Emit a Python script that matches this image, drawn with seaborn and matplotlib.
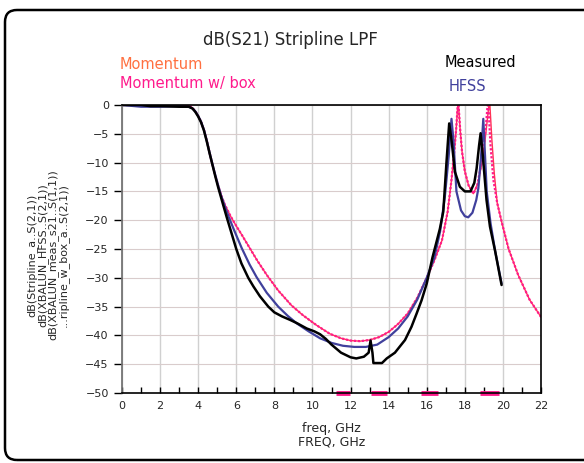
import matplotlib
matplotlib.use("Agg")
import matplotlib.pyplot as plt
from matplotlib.patches import FancyBboxPatch
from matplotlib.ticker import MultipleLocator
import seaborn as sns

# --- data (freq in GHz, dB(S21)) ---
mom_freq = [0, 1, 2, 3, 3.5, 3.7, 3.85, 4.0, 4.15, 4.3, 4.45, 4.6, 4.75, 4.9, 5.05, 5.2,
            5.4, 5.7, 6.0, 6.3, 6.7, 7.1, 7.6, 8.2, 8.9, 9.5, 10.2, 10.9, 11.5, 12.0,
            12.5, 13.0, 13.5, 14.0, 14.5, 15.0, 15.5, 16.0, 16.4, 16.8, 17.1, 17.3,
            17.45, 17.55, 17.65, 17.75, 17.85, 18.0, 18.2, 18.45, 18.7, 18.9, 19.05,
            19.15, 19.3, 19.42, 19.55, 19.7, 19.95, 20.3, 20.8, 21.4, 22.0]
mom_db = [0, 0, 0, 0, -0.1, -0.5, -1.1, -1.9, -2.9, -4.3, -6.2, -8.3, -10.3, -12.2,
          -14.0, -15.6, -17.3, -19.3, -21.0, -22.6, -24.8, -27.0, -29.5, -32.2, -34.8,
          -36.5, -38.2, -39.7, -40.5, -40.9, -41.0, -40.8, -40.3, -39.4, -38.0, -36.2,
          -33.5, -30.0, -27.0, -23.5, -18.5, -13.0, -8.0, -4.0, 1.0, -4.0, -8.0, -11.5,
          -14.0, -15.4, -13.5, -10.0, -6.5, -3.5, 1.0, -6.0, -12.0, -17.0, -20.5, -25.0,
          -29.5, -33.8, -36.8]

box_freq = [0, 1, 2, 3, 3.5, 3.7, 3.85, 4.0, 4.15, 4.3, 4.45, 4.6, 4.75, 4.9, 5.05, 5.2,
            5.4, 5.7, 6.0, 6.3, 6.7, 7.1, 7.6, 8.2, 8.9, 9.5, 10.2, 10.9, 11.5, 12.0,
            12.5, 13.0, 13.5, 14.0, 14.5, 15.0, 15.5, 16.0, 16.4, 16.8, 17.1, 17.3,
            17.45, 17.55, 17.65, 17.75, 17.85, 18.0, 18.2, 18.45, 18.65, 18.85, 19.0,
            19.1, 19.22, 19.35, 19.5, 19.7, 19.95, 20.3, 20.8, 21.4, 22.0]
box_db = [0, 0, 0, 0, -0.1, -0.5, -1.1, -1.9, -2.9, -4.3, -6.2, -8.3, -10.3, -12.2,
          -14.0, -15.6, -17.3, -19.3, -21.0, -22.6, -24.8, -27.0, -29.5, -32.2, -34.8,
          -36.5, -38.2, -39.7, -40.5, -40.9, -41.0, -40.8, -40.3, -39.4, -38.0, -36.2,
          -33.5, -30.0, -27.0, -23.5, -18.5, -13.0, -8.0, -4.0, 1.0, -4.0, -8.0, -11.5,
          -14.0, -15.4, -14.0, -10.5, -7.0, -4.0, 1.0, -7.0, -13.0, -17.0, -20.5, -25.0,
          -29.5, -33.8, -36.8]

hfss_freq = [0, 1, 2, 3, 3.5, 3.7, 3.85, 4.0, 4.15, 4.3, 4.45, 4.6, 4.75, 4.9, 5.05,
             5.2, 5.4, 5.6, 5.87, 6.28, 6.7, 7.07, 7.6, 8.2, 8.7, 9.17, 9.8, 10.4, 11.0,
             11.6, 12.2, 12.8, 13.4, 14.0, 14.5, 15.0, 15.5, 16.0, 16.4, 16.7, 16.95,
             17.15, 17.3, 17.4, 17.56, 17.8, 18.0, 18.18, 18.4, 18.6, 18.71, 18.85,
             18.97, 19.05, 19.15, 19.35, 19.6, 19.93]
hfss_db = [0, -0.3, -0.3, -0.2, -0.3, -0.6, -1.1, -1.9, -2.9, -4.3, -6.2, -8.3, -10.3,
           -12.2, -14.0, -15.7, -17.6, -19.4, -21.6, -24.8, -27.7, -29.9, -32.6, -35.0,
           -36.6, -37.9, -39.3, -40.5, -41.3, -41.8, -42.0, -42.0, -41.6, -40.3, -38.8,
           -36.7, -33.8, -30.0, -26.5, -22.0, -16.0, -9.0, -2.4, -6.0, -15.0, -18.3,
           -19.3, -19.5, -18.7, -16.5, -14.5, -9.0, -2.4, -8.0, -15.0, -20.5, -25.5, -31.0]

meas_freq = [0, 1, 1.5, 2, 3, 3.5, 3.7, 3.85, 4.0, 4.15, 4.3, 4.45, 4.6, 4.75, 4.9, 5.05,
             5.3, 5.5, 5.7, 6.0, 6.27, 6.63, 6.9, 7.24, 7.68, 8.0, 8.4, 8.82, 9.2, 9.7,
             10.1, 10.4, 10.7, 11.0, 11.5, 12.0, 12.3, 12.7, 12.95, 13.05, 13.15, 13.2,
             13.65, 13.9, 14.33, 14.86, 15.2, 15.47, 15.73, 16.0, 16.3, 16.69, 16.87,
             17.04, 17.18, 17.3, 17.48, 17.74, 18.0, 18.3, 18.5, 18.62, 18.75, 18.83,
             18.95, 19.14, 19.32, 19.6, 19.93]
meas_db = [0, 0, -0.2, -0.2, -0.3, -0.3, -0.6, -1.2, -2.0, -3.0, -4.4, -6.3, -8.4,
           -10.4, -12.4, -14.3, -17.2, -19.5, -21.7, -25.0, -27.5, -30.0, -31.5, -33.2,
           -35.0, -36.0, -36.7, -37.3, -37.9, -38.8, -39.3, -39.8, -40.6, -41.6, -43.0,
           -43.8, -44.0, -43.7, -43.0, -40.9, -43.0, -44.8, -44.8, -44.0, -43.0, -40.8,
           -38.5, -36.2, -33.9, -31.0, -26.5, -21.5, -18.5, -9.8, -3.2, -6.0, -11.6,
           -14.2, -15.0, -15.0, -13.5, -11.0, -7.0, -4.9, -9.0, -16.5, -21.1, -25.5,
           -31.25]

# marker segments along the bottom of the plot
marker_spans = [(11.25, 11.95), (13.1, 13.9), (15.7, 16.6), (18.8, 19.8)]

sns.set_theme(style="white")
plt.rcParams["font.family"] = ["DejaVu Sans"]

fig = plt.figure(figsize=(5.84, 4.63), dpi=100)
ax = fig.add_axes([122 / 584, 1 - 393 / 463, 419 / 584, 288 / 463])

red = "#ff3355"
pink = "#ff1a8c"
blue = "#40409c"

sns.lineplot(x=mom_freq, y=mom_db, ax=ax, color=red, lw=1.0, sort=False, estimator=None)
sns.lineplot(x=box_freq, y=box_db, ax=ax, color=pink, lw=1.6, ls=(0, (1, 0.8)),
             sort=False, estimator=None)
sns.lineplot(x=hfss_freq, y=hfss_db, ax=ax, color=blue, lw=1.6, sort=False, estimator=None)
sns.lineplot(x=meas_freq, y=meas_db, ax=ax, color="black", lw=1.8, sort=False,
             estimator=None)

for lo, hi in marker_spans:
    sns.lineplot(x=[lo, hi], y=[-50, -50], ax=ax, color=pink, lw=3.5, clip_on=False,
                 solid_capstyle="butt")

ax.set_xlim(0, 22)
ax.set_ylim(-50, 0)
ax.xaxis.set_major_locator(MultipleLocator(2))
ax.xaxis.set_minor_locator(MultipleLocator(1))
ax.yaxis.set_major_locator(MultipleLocator(5))
ax.grid(axis="x", color="#d0d0d0", lw=1.0)
ax.grid(axis="y", color="#d9cccc", lw=0.8)
ax.set_axisbelow(True)

ax.tick_params(axis="x", which="both", direction="in", length=4, width=1, color="black",
               labelsize=8, pad=6, bottom=True)
ax.tick_params(axis="y", direction="out", length=6, width=1, color="black",
               labelsize=8, left=True)
for s in ["top", "right", "bottom"]:
    ax.spines[s].set_color("black")
    ax.spines[s].set_linewidth(1.2)
ax.spines["left"].set_color("#707070")

ax.set_xlabel("freq, GHz\nFREQ, GHz", fontsize=9, labelpad=8, linespacing=1.0)
ax.set_ylabel("")

fig.text(0.082, 0.449,
         "dB(Stripline_a..S(2,1))\ndB(XBALUN_HFSS..S(2,1))\n"
         "dB(XBALUN_meas_s21..S(1,1))\n...ripline_w_box_a..S(2,1))",
         rotation=90, ha="center", va="center", fontsize=8, linespacing=0.95)

fig.text(0.497, 0.914, "dB(S21) Stripline LPF", ha="center", va="center", fontsize=12)
fig.text(0.205, 0.860, "Momentum", color="#ff7040", ha="left", va="center", fontsize=10.5)
fig.text(0.205, 0.819, "Momentum w/ box", color=pink, ha="left", va="center", fontsize=10.5)
fig.text(0.762, 0.864, "Measured", color="black", ha="left", va="center", fontsize=10.5)
fig.text(0.769, 0.814, "HFSS", color=blue, ha="left", va="center", fontsize=10.5)

frame = FancyBboxPatch((5, 3), 640, 450, boxstyle="round,pad=0,rounding_size=12",
                       transform=None, fill=False, lw=1.8, ec="black")
fig.add_artist(frame)

fig.savefig("out.png", dpi=100)
